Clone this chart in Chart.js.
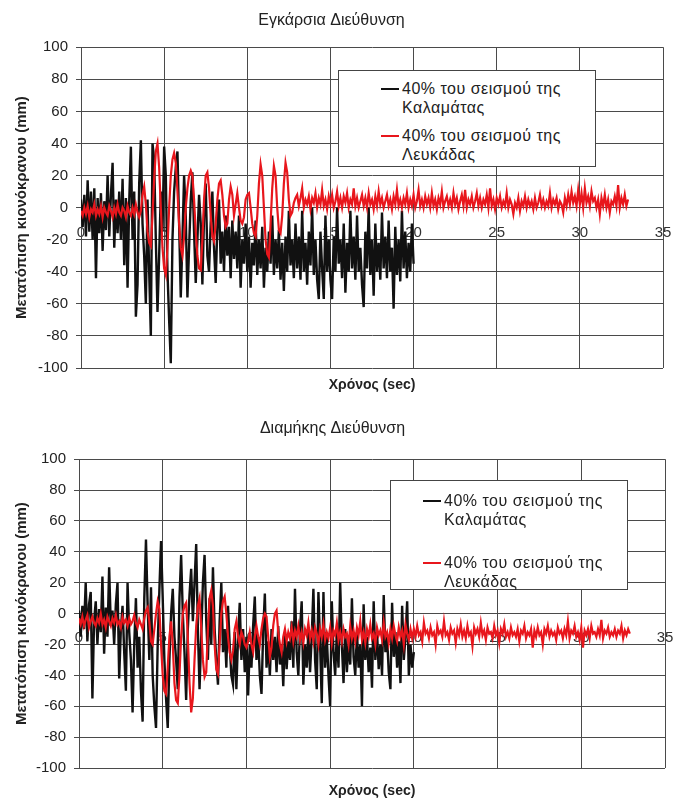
<!DOCTYPE html>
<html>
<head>
<meta charset="utf-8">
<script src="https://cdn.jsdelivr.net/npm/chart.js@4.4.1/dist/chart.umd.min.js"></script>
<style>
	body { margin: 0; background: #ffffff; }
	#page { position: relative; width: 675px; height: 803px; font-family: "Liberation Sans", Arial, sans-serif; }
	canvas { position: absolute; left: 0; }
	.legend { position: absolute; background: #ffffff; border: 1px solid #444; box-sizing: border-box; }
	.legend .sample { position: absolute; width: 18px; height: 2px; }
	.legend .txt { position: absolute; font-size: 16px; letter-spacing: 0.5px; line-height: 19px; color: #222; white-space: nowrap; }
</style>
</head>
<body>
<div id="page">
	<canvas id="chartTop" width="675" height="400" style="top:0"></canvas>
	<canvas id="chartBottom" width="675" height="403" style="top:400px"></canvas>

	<div class="legend" style="left:338px; top:70px; width:258px; height:97px;">
		<div class="sample" style="left:42px; top:17px; background:#111;"></div>
		<div class="txt" style="left:63px; top:8px;">40% του σεισμού της<br>Καλαμάτας</div>
		<div class="sample" style="left:42px; top:64px; background:#e8161c;"></div>
		<div class="txt" style="left:63px; top:55px;">40% του σεισμού της<br>Λευκάδας</div>
	</div>

	<div class="legend" style="left:390px; top:480px; width:238px; height:110px;">
		<div class="sample" style="left:32px; top:19px; background:#111;"></div>
		<div class="txt" style="left:53px; top:10px;">40% του σεισμού της<br>Καλαμάτας</div>
		<div class="sample" style="left:32px; top:81px; background:#e8161c;"></div>
		<div class="txt" style="left:53px; top:72px;">40% του σεισμού της<br>Λευκάδας</div>
	</div>
</div>

<script>
// Data block
const dt = 0.1; // sample step (sec)
const xMin = 0, xMax = 35, xStep = 5;
const yMin = -100, yMax = 100, yStep = 20;
const seriesLabels = ["40% του σεισμού της Καλαμάτας", "40% του σεισμού της Λευκάδας"];

// Εγκάρσια Διεύθυνση - Καλαμάτα (0-20 sec)
const transKalamata = [
	5, -12, 8, -18, 17, -15, 10, -20, 12, -44,
	6, -16, 9, -27, 4, -14, 20, -18, 8, 28,
	-25, 5, -16, 10, -20, 18, -36, 6, -50, 4,
	38, -20, 10, -68, -48, 15, 42, -10, -30, -60,
	5, -40, -80, 40, 30, -20, -65, -30, 10, -15,
	38, 20, -40, -70, -97, -20, 10, 25, 35, -10,
	-56, -20, 20, -5, -56, -25, 5, 22, -15, -47,
	-20, 8, -10, -48, -5, 15, -30, -40, -10, 10,
	-25, -47, -12, 5, -35, -15, -40, -5, -30, -12,
	-44, -8, -32, -15, -38, -5, -50, -20, -35, -10,
	-40, -18, -50, -22, -36, -8, -42, -20, -38, -12,
	-50, -25, -40, -15, -35, -5, -42, -20, -38, -14,
	-45, -22, -52, -18, -40, -2, -36, -20, -44, -10,
	-38, -18, -45, -2, -40, -22, -48, -15, -36, 0,
	-42, -20, -45, -57, -15, -38, -57, -5, -40, -20,
	-45, -57, -18, -40, 0, -35, -20, -44, -10, -53,
	-22, -40, -2, -38, -18, -45, -5, -40, -25, -48,
	-62, -15, -38, 0, -42, -20, -55, -10, -40, -22,
	-45, -3, -38, -18, -44, -8, -40, -25, -63, -12,
	-42, -20, -46, -2, -38, -15, -44, -22, -40, -10,
	-35
];

// Εγκάρσια Διεύθυνση - Λευκάδα (0-32.9 sec)
const transLefkada = [
	-2, -5, 0, -4, 1, -6, -1, -3, 2, -5,
	-1, -4, 1, -6, 0, -3, -5, 1, -2, -6,
	0, -4, 2, -3, -5, 0, -2, -6, 1, -3,
	-5, 0, -4, 2, -3, -6, -2, 8, 13, 2,
	-15, -22, -24, -5, 18, 35, 40, 25, 0, -25,
	-38, -42, -25, 0, 20, 30, 34, 28, 10, -10,
	-25, -30, -18, 0, 12, 20, 23, 20, 5, -15,
	-30, -38, -39, -20, 5, 20, 22, 12, -5, -18,
	-21, -10, 5, 15, 17, 8, -5, -12, -10, 5,
	13, 8, -5, 2, 9, 0, -8, -10, -6, 5,
	8, 9, 0, -10, -16, -18, -5, 15, 27, 20,
	0, -20, -29, -31, -10, 12, 26, 20, 0, -14,
	-16, -5, 15, 28, 22, 5, -5, -3, 3, 6,
	8, 1, 6, 12, 0, 5, 2, 7, -1, 6,
	3, 9, 0, 6, 2, 11, 1, 5, -1, 7,
	2, 8, 0, 4, 10, 1, 6, 0, 7, 3,
	9, 0, 5, 2, 12, 1, 6, 0, 4, 8,
	1, 6, 0, 9, 2, 5, -1, 7, 1, 10,
	2, 6, 0, 4, 8, 1, 5, -1, 7, 2,
	11, 1, 5, 0, 6, 2, 9, 0, 5, 1,
	8, 0, 4, 11, 1, 5, 0, 7, 2, 6,
	0, 9, 1, 5, -1, 6, 2, 10, 0, 4,
	7, 1, 5, 0, 9, 2, 6, -1, 4, 8,
	1, 11, 0, 5, 2, 7, 0, 4, 9, 1,
	6, 0, 5, 2, 8, 0, 12, 1, 5, -1,
	6, 2, 7, 0, 4, 1, 9, 0, 5, 2,
	-4, 3, 0, 6, -2, 4, 1, 7, 0, 5,
	1, 4, -1, 6, 0, 3, 8, 1, 5, 0,
	4, 1, 9, 0, 5, 2, 6, -1, 4, 2,
	-3, 6, 1, 8, 2, 10, 3, 7, 1, 11,
	2, 9, 0, 12, 3, 7, 1, 10, 4, 6,
	0, 5, -4, 6, 1, 8, 0, 5, -3, 4,
	2, 7, 1, 14, 0, 6, 2, 8, 1, 5
];

// Διαμήκης Διεύθυνση - Καλαμάτα (0-20 sec)
const longKalamata = [
	2, -15, 5, -10, 20, -18, 6, 14, -55, -5,
	8, -20, 3, -12, 24, -26, 4, -15, 30, -8,
	2, -20, 6, 20, -42, -10, 5, -25, -50, 20,
	-12, -30, -64, -20, 10, -35, -15, -50, -70, 10,
	48, 5, -30, 17, -40, -60, -74, -20, 15, 47,
	10, -30, -55, -74, -30, 0, 16, -15, -30, -49,
	10, 38, 0, -25, -56, -10, 12, 29, -5, 20,
	45, -10, -49, -15, 20, 38, -5, -30, 10, -20,
	30, -10, -30, -46, -5, 20, -25, -10, -35, 5,
	-20, -40, -46, -12, -49, -15, 7, -30, -10, -38,
	-15, -53, -20, -35, -8, 11, -30, -15, -40, -52,
	-12, 13, -35, -18, -40, -10, -30, -15, -38, -8,
	-33, -20, -47, -12, -36, -18, -30, -5, -35, 16,
	-25, -40, -10, 8, -46, -20, -35, -12, -38, -15,
	16, -30, -49, 14, -20, -58, 14, -35, -15, -40,
	-60, 8, -25, -40, -12, -35, 20, -20, -45, -10,
	-38, -18, -33, 10, -28, -40, -12, -35, -20, -60,
	6, -30, -15, -38, -22, -48, 8, -30, -12, -36,
	-20, -40, 12, -25, -15, -38, -49, 7, -28, -12,
	-35, -18, -45, 5, -30, -15, 8, -40, -20, -35,
	-25
];

// Διαμήκης Διεύθυνση - Λευκάδα (0-32.9 sec)
const longLefkada = [
	-3, -7, -2, -8, -4, -1, -9, -5, -2, -6,
	-8, -3, -6, 0, -7, -4, -9, -2, -5, -8,
	-3, -6, -1, -7, -5, -9, -2, -6, -4, -8,
	-3, -7, -5, -1, -6, -9, -4, -7, -10, -3,
	2, 4, -5, -18, -20, -10, 0, 8, 3, -20,
	-40, -50, -52, -35, -15, -5, -20, -45, -56, -58,
	-40, -15, 0, 5, 7, -15, -45, -64, -55, -30,
	-8, 5, 10, -10, -30, -41, -38, -10, 10, 15,
	5, -20, -36, -39, -20, 0, 8, 11, 0, -15,
	-25, -30, -24, -10, -5, -15, -20, -12, -15, -20,
	-22, -18, -12, -20, -25, -15, -8, -15, -20, -10,
	-3, 0, -2, -15, -28, -22, -8, 0, 2, -12,
	-20, -25, -15, -10, -18, -12, -16, -9, -18, -11,
	-15, -8, -17, -12, -19, -10, -14, -6, -16, -11,
	-18, -9, -13, -20, -10, -15, -7, -17, -12, -16,
	-9, -19, -11, -14, -6, -17, -12, -18, -10, -15,
	-13, -20, -8, -16, -11, -18, -9, -14, -5, -17,
	-12, -19, -10, -15, -7, -16, -13, -20, -9, -14,
	-11, -17, -6, -15, -12, -19, -10, -16, -8, -14,
	-18, -9, -15, -11, -20, -7, -13, -17, -10, -16,
	-10, -15, -8, -14, -12, -18, -6, -13, -11, -16,
	-9, -14, -12, -20, -8, -13, -11, -15, -5, -14,
	-12, -17, -9, -13, -11, -19, -10, -14, -7, -15,
	-11, -16, -8, -14, -12, -21, -9, -13, -10, -15,
	-6, -14, -11, -17, -9, -13, -12, -16, -8, -14,
	-11, -19, -10, -13, -7, -15, -12, -16, -9, -14,
	-12, -15, -10, -18, -11, -13, -8, -16, -12, -14,
	-10, -22, -11, -15, -9, -14, -12, -20, -10, -13,
	-8, -15, -11, -14, -12, -17, -9, -13, -11, -16,
	-10, -14, -5, -16, -11, -13, -8, -15, -12, -17,
	-9, -22, -11, -14, -10, -16, -8, -13, -12, -15,
	-10, -14, -4, -16, -11, -13, -9, -15, -12, -14,
	-10, -15, -11, -13, -8, -16, -11, -14, -10, -13
];

Chart.defaults.font.family = "'Liberation Sans', Arial, sans-serif";
Chart.defaults.color = "#222";

const gridColor = "#4a4a4a";

function toPoints(vals) {
	return vals.map((v, i) => ({ x: Math.round(i * dt * 10) / 10, y: v }));
}

function drawChart(canvasId, title, black, red, geo) {
	//Cofig Block
	const config = {
		type: "line",
		data: {
			datasets: [
				{
					label: seriesLabels[0],
					data: toPoints(black),
					borderColor: "#111111",
					borderWidth: 2.4,
					pointRadius: 0,
					tension: 0,
					order: 2,
				},
				{
					label: seriesLabels[1],
					data: toPoints(red),
					borderColor: "#e8161c",
					borderWidth: 2.2,
					pointRadius: 0,
					tension: 0,
					order: 1,
				},
			],
		},
		options: {
			responsive: false,
			animation: false,
			events: [],
			layout: {
				padding: { left: 0, right: geo.right, top: 0, bottom: 0 },
			},
			plugins: {
				legend: { display: false },
				tooltip: { enabled: false },
				title: {
					display: true,
					text: title,
					color: "#222",
					font: { size: 16, weight: "normal" },
					padding: { top: geo.titleTop, bottom: geo.titleBottom },
				},
			},
			scales: {
				x: {
					type: "linear",
					position: { y: 0 },
					min: xMin,
					max: xMax,
					ticks: {
						stepSize: xStep,
						autoSkip: false,
						maxRotation: 0,
						padding: geo.xPad,
						color: "#333",
						font: { size: 15 },
					},
					grid: { color: gridColor, drawTicks: false },
					border: { color: gridColor },
					afterFit: function (scale) {
						// keep the "35" label from pushing the plot inwards
						scale.paddingLeft = 0;
						scale.paddingRight = 0;
					},
				},
				y: {
					min: yMin,
					max: yMax,
					ticks: {
						stepSize: yStep,
						padding: 8,
						color: "#222",
						font: { size: 15 },
					},
					grid: { color: gridColor, tickLength: 5 },
					border: { color: gridColor },
					title: {
						display: true,
						text: "Μετατόπιση κιονόκρανου (mm)",
						color: "#222",
						font: { size: 15, weight: "bold" },
						padding: { top: 13, bottom: 0 },
					},
					afterFit: function (scale) {
						scale.width = geo.left;
					},
				},
				// only carries the bottom axis title
				xt: {
					type: "linear",
					position: "bottom",
					min: xMin,
					max: xMax,
					ticks: { display: false },
					grid: { display: false },
					border: { display: false },
					title: {
						display: true,
						text: "Χρόνος (sec)",
						color: "#222",
						font: { size: 14, weight: "bold" },
						padding: { top: 0, bottom: geo.xtPad },
					},
					afterFit: function (scale) {
						scale.height = geo.bottom;
						scale.paddingLeft = 0;
						scale.paddingRight = 0;
					},
				},
			},
		},
	};

	// Render Block
	return new Chart(document.getElementById(canvasId), config);
}

drawChart("chartTop", "Εγκάρσια Διεύθυνση", transKalamata, transLefkada, {
	left: 81, right: 12, titleTop: 11, titleBottom: 17, bottom: 32, xPad: 16, xtPad: 6,
});
drawChart("chartBottom", "Διαμήκης Διεύθυνση", longKalamata, longLefkada, {
	left: 79, right: 10, titleTop: 19, titleBottom: 21, bottom: 35, xPad: 15, xtPad: 3,
});
</script>
</body>
</html>
